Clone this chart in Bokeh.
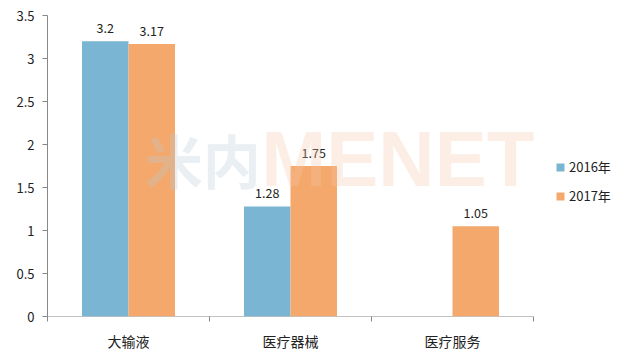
from bokeh.plotting import figure
from bokeh.models import FixedTicker, Legend, LegendItem, ColumnDataSource, Range1d
from bokeh.core.properties import value
from bokeh.embed import file_html
from bokeh.resources import INLINE

categories = ["大输液", "医疗器械", "医疗服务"]
series_names = ["2016年", "2017年"]
vals_2016 = [3.2, 1.28, None]
vals_2017 = [3.17, 1.75, 1.05]
y_ticks = [0, 0.5, 1, 1.5, 2, 2.5, 3, 3.5]
colors = ["#7AB5D3", "#F4A86B"]

FONT = "Noto Sans CJK SC"
n = len(categories)

p = figure(width=619, height=355, output_backend="svg", toolbar_location=None,
           x_range=Range1d(0, n * 572 / 486), y_range=Range1d(0, 3.5),
           min_border_left=47, min_border_top=15, min_border_bottom=39, min_border_right=0)
p.outline_line_color = None
p.xgrid.visible = False
p.ygrid.visible = False

# x axis baseline across the categories only
p.segment(x0=[0], x1=[n], y0=[0], y1=[0], line_color="#888888", line_width=1)

w = 0.287
centers = [i + 0.5 for i in range(n)]
renderers = []
for k, (vals, col) in enumerate(zip([vals_2016, vals_2017], colors)):
    xs, tops, labels = [], [], []
    for c, v in zip(centers, vals):
        if v is None:
            continue
        xs.append(c + (k - 0.5) * w)
        tops.append(v)
        labels.append(f"{v:g}")
    src = ColumnDataSource(dict(x=xs, top=tops, label=labels))
    r = p.vbar(x="x", top="top", width=w, bottom=0, source=src, fill_color=col, line_color=None)
    renderers.append(r)
    p.text(x="x", y="top", text="label", source=src, text_align="center", text_baseline="bottom",
           y_offset=-8, text_font=value(FONT), text_font_size="12.5px", text_color="#222222")

# watermark (semi-transparent, over the bars)
p.text(x=[0.6], y=[1.83], text=["米内"], text_font=value(FONT),
       text_font_size="58px", text_font_style="bold", text_color="#B9CBD6", text_alpha=0.3,
       text_align="left", text_baseline="middle")
p.text(x=[1.32], y=[1.83], text=["MENET"], text_font=value("Liberation Sans"),
       text_font_size="78px", text_font_style="bold", text_color="#F6C8A8", text_alpha=0.3,
       text_align="left", text_baseline="middle")

legend = Legend(items=[LegendItem(label=s, renderers=[r]) for s, r in zip(series_names, renderers)],
                location=(508, 111), label_text_font=FONT, label_text_font_size="13px",
                label_text_color="#222222", glyph_width=10, glyph_height=10, spacing=10,
                label_standoff=4, border_line_color=None, background_fill_alpha=0,
                padding=0, margin=0)
p.add_layout(legend, "center")

# y axis
p.yaxis.ticker = FixedTicker(ticks=y_ticks)
p.yaxis.major_label_overrides = {t: f"{t:g}" for t in y_ticks}
p.yaxis.axis_line_color = "#888888"
p.yaxis.major_tick_line_color = "#888888"
p.yaxis.major_tick_out = 5
p.yaxis.major_tick_in = 0
p.yaxis.minor_tick_line_color = None
p.yaxis.major_label_text_font = FONT
p.yaxis.major_label_text_font_size = "13px"
p.yaxis.major_label_text_color = "#222222"
p.yaxis.major_label_standoff = 8

# x axis
p.xaxis.ticker = FixedTicker(ticks=centers, minor_ticks=list(range(n + 1)))
p.xaxis.major_label_overrides = {c: s for c, s in zip(centers, categories)}
p.xaxis.axis_line_color = None
p.xaxis.major_tick_line_color = None
p.xaxis.minor_tick_line_color = "#888888"
p.xaxis.minor_tick_out = 5
p.xaxis.minor_tick_in = 0
p.xaxis.major_label_text_font = FONT
p.xaxis.major_label_text_font_size = "14px"
p.xaxis.major_label_text_color = "#222222"
p.xaxis.major_label_standoff = 8

open("out.html", "w").write(file_html(p, INLINE))
